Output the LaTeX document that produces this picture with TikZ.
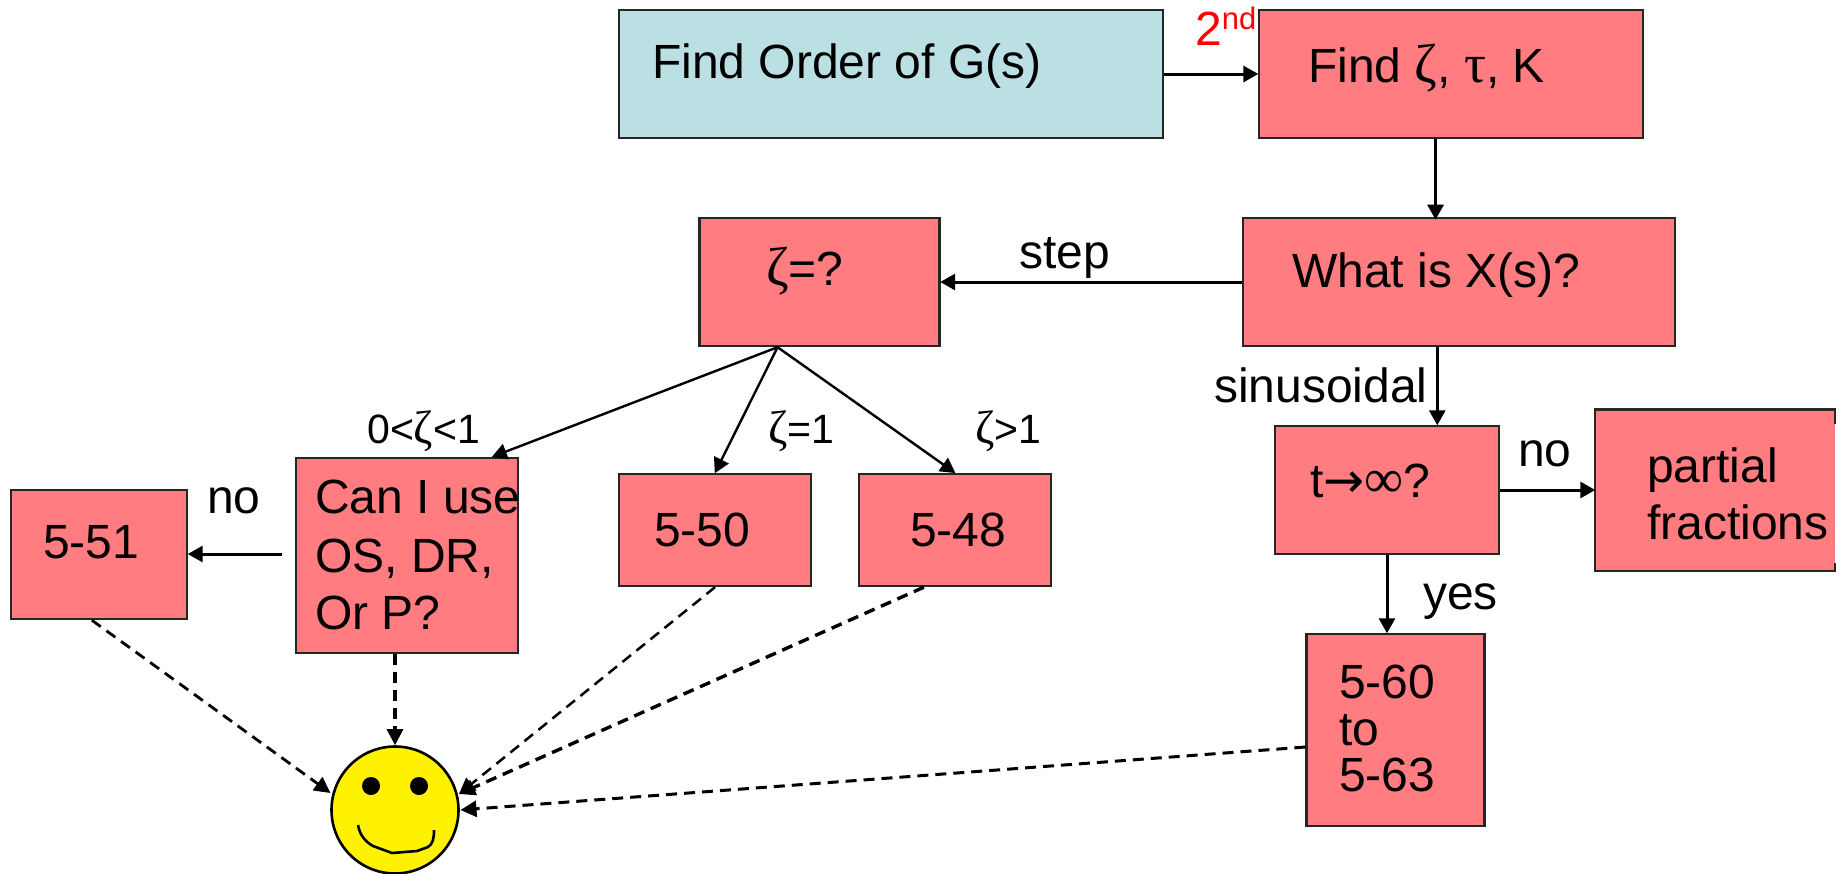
\documentclass[tikz,border=0pt]{standalone}
\usepackage{fontspec}
\setmainfont{Liberation Sans}
\newfontfamily\symf[Scale=1.14]{Liberation Serif}
\newfontfamily\arrf[Scale=1.02]{DejaVu Sans}
\usetikzlibrary{arrows.meta,calc}
\tikzset{
  x=1pt,y=-1pt,
  box/.style={draw=black!85,line width=2.4pt,fill=#1,inner sep=0pt,rectangle},
  box/.default={boxpink},
  big/.style={inner sep=0pt,anchor=base west,font=\fontsize{48}{58}\selectfont,align=left},
  small/.style={inner sep=0pt,anchor=base west,font=\fontsize{41}{44}\selectfont},
  arr/.style={line width=3pt,-{Triangle[length=15pt,width=16pt]},shorten >=-0.5pt},
  thinarr/.style={line width=2.4pt,-{Triangle[length=15pt,width=16pt]},shorten >=-0.5pt},
  dash1/.style={line width=2.8pt,dash pattern=on 11pt off 7pt,-{Triangle[length=16pt,width=16pt,sep=0pt]}},
}
\definecolor{boxpink}{HTML}{FF7C80}
\definecolor{boxteal}{HTML}{BBE0E3}
\begin{document}
\begin{tikzpicture}
\useasboundingbox (0,0) rectangle (1844,873);
% boxes: name at centre, size
\node[box=boxteal,minimum width=544pt,minimum height=128pt] (g) at (891,74) {};
\node[box,minimum width=384pt,minimum height=128pt] (find) at (1451,74) {};
\node[box,minimum width=432pt,minimum height=128pt] (what) at (1459,282) {};
\node[box,minimum width=240pt,minimum height=128pt] (zeta) at (819.5,282) {};
\node[box,minimum width=224pt,minimum height=128pt] (tinf) at (1387,490) {};
\node[fill=boxpink,inner sep=0pt,minimum width=240pt,minimum height=161pt] (part) at (1715,490) {};
\draw[draw=black!85,line width=2.4pt] ($(part.north east)+(0,15)$) -- (part.north east) -- (part.north west) -- (part.south west) -- (part.south east) -- ($(part.south east)+(0,-8)$);
\node[box,minimum width=222pt,minimum height=195pt] (can) at (407,555.5) {};
\node[box,minimum width=176pt,minimum height=129pt] (b51) at (99,554.5) {};
\node[box,minimum width=192pt,minimum height=112pt] (b50) at (715,530) {};
\node[box,minimum width=192pt,minimum height=112pt] (b48) at (955,530) {};
\node[box,minimum width=178pt,minimum height=192pt] (b60) at (1395.5,730) {};
% smiley
\node[draw=black,line width=2.6pt,fill=yellow,circle,minimum size=127pt,inner sep=0pt] (smile) at (395,810) {};
\node[fill=black,circle,minimum size=18pt,inner sep=0pt] (eyel) at (371,786) {};
\node[fill=black,circle,minimum size=18pt,inner sep=0pt] (eyer) at (419,786) {};
\draw[line width=2.6pt,line join=round] (358,825) .. controls (360,836) and (366,842) .. (373,846) -- (392,853) -- (417,851) -- (428,847) .. controls (433,844) and (434,838) .. (434,830);
% texts
\node[big] (tg) at (652,78) {Find Order of G(s)};
\node[big,text=red] (t2) at (1195,45) {2\raisebox{16pt}{\fontsize{31}{31}\selectfont nd}};
\node[big] (tf) at (1308,82) {Find {\symf ζ}, {\symf τ}, K};
\node[big] (tw) at (1292,287) {What is X(s)?};
\node[big] (tz) at (766,285) {{\symf ζ}=?};
\node[big] (ts) at (1019,268) {step};
\node[big] (tsin) at (1214,402) {sinusoidal};
\node[big] (tt) at (1310,497) {t{\arrf →}{\symf ∞}?};
\node[big] (tno) at (1518,466) {no};
\node[big] (tp1) at (1647,482) {partial};
\node[big] (tp2) at (1647,539) {fractions};
\node[big] (tyes) at (1423,609) {yes};
\node[big] (t60a) at (1339,698) {5-60};
\node[big] (t60b) at (1339,745) {to};
\node[big] (t60c) at (1339,791) {5-63};
\node[big] (t50) at (654,546) {5-50};
\node[big] (t48) at (910,546) {5-48};
\node[big] (t51) at (43,558) {5-51};
\node[big] (tnol) at (207,513) {no};
\node[big] (tc1) at (315,513) {Can I use};
\node[big] (tc2) at (315,572) {OS, DR,};
\node[big] (tc3) at (315,629) {Or P?};
\node[small] (l1) at (367,443) {0<{\symf ζ}<1};
\node[small] (l2) at (768,443) {{\symf ζ}=1};
\node[small] (l3) at (975,443) {{\symf ζ}>1};
% connectors
\draw[arr] (g.east) -- (find.west);
\draw[arr] ($(find.south west)!0.46!(find.south east)$) -- ($(find.south west)!0.46!(find.south east)+(0,80)$);
\draw[arr] (what.west) -- (zeta.east);
\draw[arr] ($(what.south west)!0.45!(what.south east)$) coordinate (wb) -- (wb |- tinf.north);
\draw[arr] (tinf.east) -- (part.west);
\draw[arr] (tinf.south) -- (tinf.south |- b60.north);
\coordinate (za) at ($(zeta.south west)!0.327!(zeta.south east)$);
\draw[thinarr] (za) -- ($(can.north west)!0.88!(can.north east)$);
\draw[thinarr] (za) -- (b50.north);
\draw[thinarr] (za) -- (b48.north);
\coordinate (canfree) at ($(can.west)+(-13,-1.5)$);
\draw[arr] (canfree) -- (canfree -| b51.east);
\draw[dash1] ($(b51.south west)!0.46!(b51.south east)$) -- ($(smile.center)+(-64.5,-17)$);
\draw[dash1,line width=3.2pt] (can.south -| smile.north) -- (smile.north);
\draw[dash1,line width=2.5pt] (b50.south) -- ($(smile.center)+(64,-16)$);
\draw[dash1,line width=3.4pt] ($(b48.south west)!0.34!(b48.south east)$) -- ($(smile.center)+(64,-16)$);
\draw[dash1,line width=3pt] ($(b60.west)+(0,17)$) -- ($(smile.center)+(65.5,0)$);
\end{tikzpicture}
\end{document}
